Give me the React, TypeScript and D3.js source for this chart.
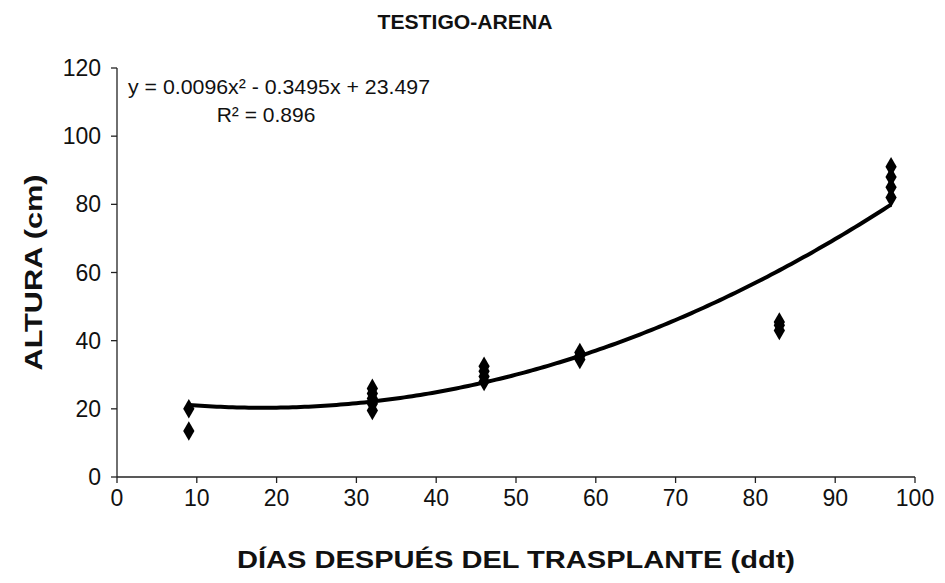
import React from "react";
import * as d3 from "d3";

const W = 945;
const H = 583;

const title = "TESTIGO-ARENA";
const xLabel = "DÍAS DESPUÉS DEL TRASPLANTE (ddt)";
const yLabel = "ALTURA (cm)";
const xTicks = [0, 10, 20, 30, 40, 50, 60, 70, 80, 90, 100];
const yTicks = [0, 20, 40, 60, 80, 100, 120];

// observed heights per day
const days = [9, 32, 46, 58, 83, 97];
const heights = [
  [20, 13.5],
  [26, 24.5, 23, 21.5, 19.5],
  [32.5, 31, 29.5, 28],
  [36.5, 35.5, 34.5],
  [45.5, 44.5, 43],
  [91, 88, 85, 82],
];

// polynomial trendline coefficients (a x^2 + b x + c) as labelled on the chart
const trendCoef = [0.0096, -0.3495, 23.497];
const trendDomain = [9, 97];
const equationText = "y = 0.0096x² - 0.3495x + 23.497";
const r2Text = "R² = 0.896";

export default function App() {
  const x = d3.scaleLinear().domain([0, 100]).range([117, 915]);
  const y = d3.scaleLinear().domain([0, 120]).range([477, 68]);
  const font = "'Liberation Sans', Arial, sans-serif";

  const trendX = d3.range(trendDomain[0], trendDomain[1] + 0.001, 0.5);
  const trendPts: [number, number][] = trendX.map((d) => [
    d,
    trendCoef[0] * d * d + trendCoef[1] * d + trendCoef[2],
  ]);
  const line = d3
    .line<[number, number]>()
    .x((d) => x(d[0]))
    .y((d) => y(d[1]));

  const pts: { d: number; h: number }[] = [];
  days.forEach((d, i) => heights[i].forEach((h) => pts.push({ d, h })));
  const diamond = d3.symbol().type(d3.symbolDiamond).size(110)();

  const x0 = x(0);
  const y0 = y(0);

  return (
    <div style={{ position: "absolute", left: 0, top: 0 }}>
      <svg width={W} height={H} style={{ display: "block", background: "#fff" }}>
        <text x={465} y={29} textAnchor="middle" fontFamily={font} fontWeight="bold" fontSize={20} fill="#111"
          textLength={175} lengthAdjust="spacingAndGlyphs">
          {title}
        </text>

        {/* axes */}
        <line x1={x0} x2={x0} y1={y(120)} y2={y0} stroke="#222" strokeWidth={1.3} />
        <line x1={x0} x2={x(100)} y1={y0} y2={y0} stroke="#222" strokeWidth={1.3} />
        {yTicks.map((t) => (
          <g key={"y" + t}>
            <line x1={x0 - 6} x2={x0} y1={y(t)} y2={y(t)} stroke="#222" strokeWidth={1.3} />
            <text x={x0 - 16} y={y(t) + 8} textAnchor="end" fontFamily={font} fontSize={23} fill="#111">
              {t}
            </text>
          </g>
        ))}
        {xTicks.map((t) => (
          <g key={"x" + t}>
            <line x1={x(t)} x2={x(t)} y1={y0} y2={y0 + 6} stroke="#222" strokeWidth={1.3} />
            <text x={x(t)} y={y0 + 29} textAnchor="middle" fontFamily={font} fontSize={23} fill="#111">
              {t}
            </text>
          </g>
        ))}

        {/* trendline */}
        <path d={line(trendPts) || ""} fill="none" stroke="#000" strokeWidth={4} strokeLinejoin="round" />

        {/* points */}
        {pts.map((p, i) => (
          <path key={i} d={diamond || ""} transform={`translate(${x(p.d)},${y(p.h)})`} fill="#000" />
        ))}

        <text x={128} y={94} fontFamily={font} fontSize={21} fill="#111" textLength={302} lengthAdjust="spacingAndGlyphs">
          {equationText}
        </text>
        <text x={266} y={122} textAnchor="middle" fontFamily={font} fontSize={21} fill="#111">
          {r2Text}
        </text>

        <text
          transform={`translate(42,${y(60)}) rotate(-90)`}
          textAnchor="middle"
          fontFamily={font}
          fontWeight="bold"
          fontSize={24}
          fill="#111"
          textLength={196}
          lengthAdjust="spacingAndGlyphs"
        >
          {yLabel}
        </text>
        <text x={516} y={568} textAnchor="middle" fontFamily={font} fontWeight="bold" fontSize={24} fill="#111"
          textLength={558} lengthAdjust="spacingAndGlyphs">
          {xLabel}
        </text>
      </svg>
    </div>
  );
}
